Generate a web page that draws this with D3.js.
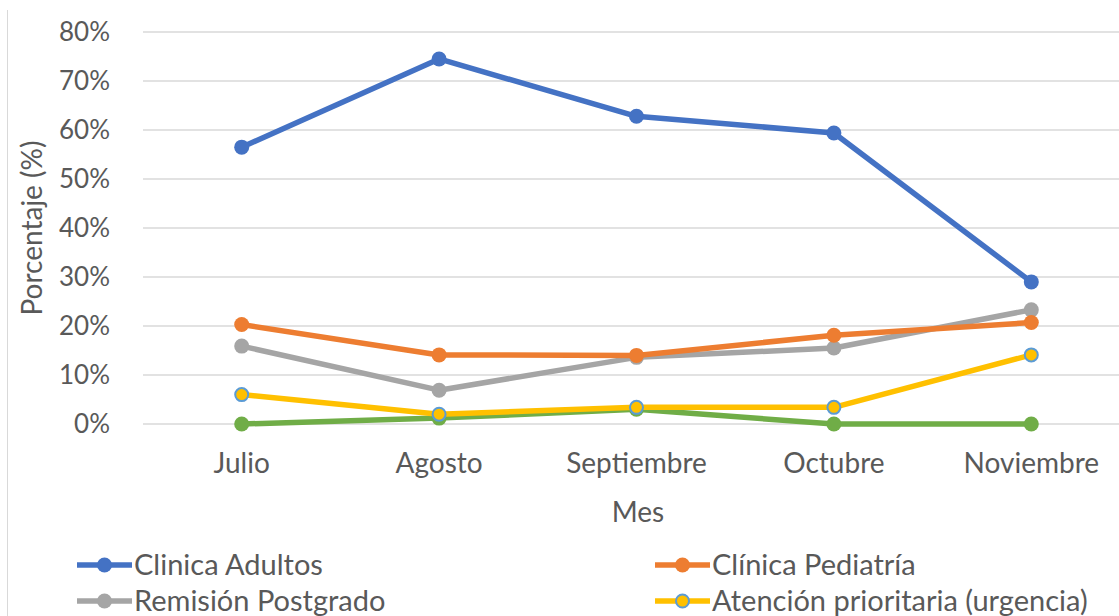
<!DOCTYPE html>
<html>
<head>
<meta charset="utf-8">
<script src="https://cdn.jsdelivr.net/npm/d3@7"></script>
<style>
  body { margin: 0; background: #fff; }
  svg text { font-family: Lato, "Open Sans", sans-serif; fill: #595959; }
</style>
</head>
<body>
<svg id="chart" width="1119" height="616"></svg>
<script>
// data
var months = ["Julio", "Agosto", "Septiembre", "Octubre", "Noviembre"];
var adultos = [0.565, 0.745, 0.628, 0.594, 0.290];
var pediatria = [0.203, 0.141, 0.140, 0.181, 0.207];
var remision = [0.159, 0.069, 0.136, 0.155, 0.233];
var atencion = [0.060, 0.020, 0.034, 0.034, 0.141];
var otros = [0.000, 0.012, 0.030, 0.000, 0.000];
var yTicks = [0, 0.1, 0.2, 0.3, 0.4, 0.5, 0.6, 0.7, 0.8];

var series = [
  { name: "Clinica Adultos", values: adultos, color: "#4472C4", ring: null },
  { name: "Clínica Pediatría", values: pediatria, color: "#ED7D31", ring: null },
  { name: "Remisión Postgrado", values: remision, color: "#A5A5A5", ring: null },
  { name: "Atención prioritaria (urgencia)", values: atencion, color: "#FFC000", ring: "#5B9BD5" },
  { name: "", values: otros, color: "#70AD47", ring: null }
];

var svg = d3.select("#chart");
var fs = 28;

// thin frame line on the left
svg.append("line")
  .attr("x1", 7.5).attr("x2", 7.5).attr("y1", 10).attr("y2", 616)
  .attr("stroke", "#d9d9d9").attr("stroke-width", 1);

var plotL = 143, plotR = 1130, plotT = 32, plotB = 424;

var x = d3.scaleBand().domain(months).range([plotL, plotR]);
var y = d3.scaleLinear().domain([0, 0.8]).range([plotB, plotT]);

// gridlines
svg.append("g").selectAll("line")
  .data(yTicks)
  .enter().append("line")
  .attr("x1", plotL).attr("x2", 1119)
  .attr("y1", function(d) { return y(d); })
  .attr("y2", function(d) { return y(d); })
  .attr("stroke", "#d9d9d9").attr("stroke-width", 1.5);

// y axis labels
var yAxis = d3.axisLeft(y).tickValues(yTicks).tickFormat(d3.format(".0%")).tickSize(0).tickPadding(33);
var gy = svg.append("g").attr("transform", "translate(" + plotL + ",0)").call(yAxis);
gy.select(".domain").remove();
gy.selectAll("text").attr("font-size", 26).style("font-family", "Lato, 'Open Sans', sans-serif").attr("fill", "#595959");

// x axis labels
var xAxis = d3.axisBottom(x).tickSize(0).tickPadding(29);
var gx = svg.append("g").attr("transform", "translate(0," + plotB + ")").call(xAxis);
gx.select(".domain").remove();
gx.selectAll("text").attr("font-size", fs).style("font-family", "Lato, 'Open Sans', sans-serif").attr("fill", "#595959");

// axis titles
svg.append("text")
  .attr("x", 638).attr("y", 522)
  .attr("text-anchor", "middle")
  .attr("font-size", fs)
  .text("Mes");

svg.append("text")
  .attr("transform", "translate(42,228) rotate(-90)")
  .attr("text-anchor", "middle")
  .attr("font-size", fs)
  .text("Porcentaje (%)");

// lines (drawn last series first so blue sits on top)
var line = d3.line()
  .x(function(d, i) { return x(months[i]) + x.bandwidth() / 2; })
  .y(function(d) { return y(d); });

var order = [4, 3, 2, 1, 0];
order.forEach(function(k) {
  var s = series[k];
  var g = svg.append("g");
  g.append("path")
    .datum(s.values)
    .attr("d", line)
    .attr("fill", "none")
    .attr("stroke", s.color)
    .attr("stroke-width", 5.5)
    .attr("stroke-linejoin", "round");
  g.selectAll("circle")
    .data(s.values)
    .enter().append("circle")
    .attr("cx", function(d, i) { return x(months[i]) + x.bandwidth() / 2; })
    .attr("cy", function(d) { return y(d); })
    .attr("r", s.ring ? 6.5 : 7.5)
    .attr("fill", s.color)
    .attr("stroke", s.ring ? s.ring : "none")
    .attr("stroke-width", s.ring ? 2 : 0);
});

// legend
var legendPos = [[77, 565], [655, 565], [77, 601], [655, 601]];
series.slice(0, 4).forEach(function(s, i) {
  var lx = legendPos[i][0], ly = legendPos[i][1];
  var g = svg.append("g").attr("transform", "translate(" + lx + "," + ly + ")");
  g.append("line")
    .attr("x1", 0).attr("x2", 55).attr("y1", 0).attr("y2", 0)
    .attr("stroke", s.color).attr("stroke-width", 5.5);
  g.append("circle")
    .attr("cx", 27.5).attr("cy", 0)
    .attr("r", s.ring ? 6.5 : 7.5)
    .attr("fill", s.color)
    .attr("stroke", s.ring ? s.ring : "none")
    .attr("stroke-width", s.ring ? 2 : 0);
  g.append("text")
    .attr("x", 57).attr("y", 10)
    .attr("font-size", 29)
    .text(s.name);
});
</script>
</body>
</html>
